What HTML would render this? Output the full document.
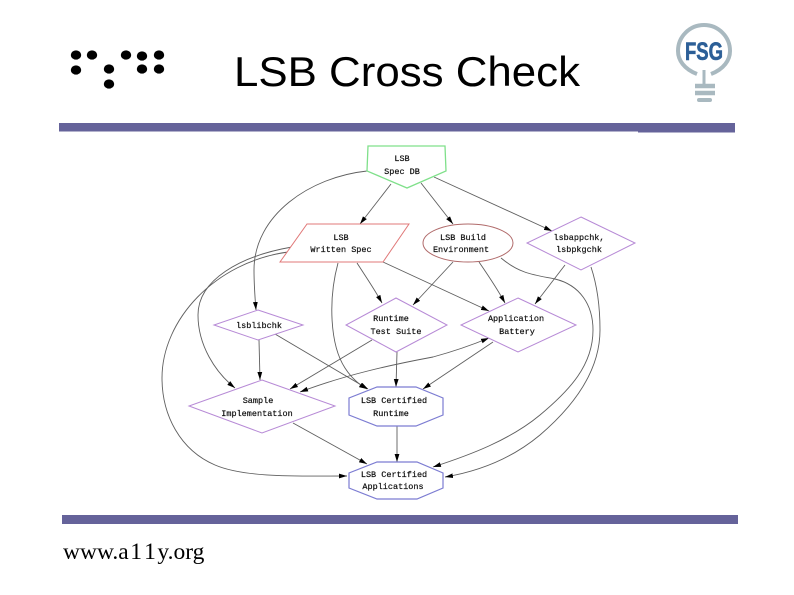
<!DOCTYPE html>
<html><head><meta charset="utf-8"><style>
html,body{margin:0;padding:0;background:#fff}
svg{display:block}
.e{fill:none;stroke:#5e5e5e;stroke-width:.9;marker-end:url(#a)}
.n{fill:none;stroke:#5e5e5e;stroke-width:.9}
.g text{font-family:"Liberation Mono",monospace;font-size:8.5px;text-anchor:middle;fill:#111;stroke:#111;stroke-width:.2}
</style></head><body>
<svg width="794" height="595" viewBox="0 0 794 595" xmlns="http://www.w3.org/2000/svg">
<defs>
<marker id="a" markerWidth="9" markerHeight="7" refX="8" refY="3" orient="auto" markerUnits="userSpaceOnUse"><path d="M0 .6L8 3L0 5.4z" fill="#000"/></marker>
<marker id="b" markerWidth="9" markerHeight="7" refX="0" refY="3" orient="auto" markerUnits="userSpaceOnUse"><path d="M8 .6L0 3L8 5.4z" fill="#000"/></marker>
<filter id="s" x="-5%" y="-5%" width="110%" height="110%"><feGaussianBlur stdDeviation=".35"/></filter>
</defs>
<rect width="794" height="595" fill="#fff"/>
<g fill="#000">
<ellipse cx="76" cy="55" rx="5.2" ry="4.6"/><ellipse cx="92" cy="55" rx="5.2" ry="4.6"/><ellipse cx="126" cy="55" rx="5.2" ry="4.6"/><ellipse cx="142" cy="56" rx="5.2" ry="4.6"/><ellipse cx="159" cy="55" rx="5.2" ry="4.6"/>
<ellipse cx="76" cy="70" rx="5.2" ry="4.6"/><ellipse cx="109" cy="69" rx="5.2" ry="4.6"/><ellipse cx="142" cy="69" rx="5.2" ry="4.6"/><ellipse cx="159" cy="69" rx="5.2" ry="4.6"/>
<ellipse cx="109" cy="84" rx="5.2" ry="4.6"/>
</g>
<text x="234" y="86" font-family="'Liberation Sans',sans-serif" font-size="42" textLength="346" lengthAdjust="spacingAndGlyphs" fill="#000">LSB Cross Check</text>
<path d="M697 74C684 69 678 60 678 51A26 26 0 0 1 730 51C730 60 724 69 711 74" fill="none" stroke="#a9b9c0" stroke-width="4"/>
<path d="M704 70V84" stroke="#a9b9c0" stroke-width="3"/>
<path d="M695 86H715M695 93H715" stroke="#a9b9c0" stroke-width="4.5"/>
<path d="M699 100H710" stroke="#a9b9c0" stroke-width="4" stroke-linecap="round"/>
<text x="704" y="60" text-anchor="middle" font-family="'Liberation Sans',sans-serif" font-weight="700" font-size="25" textLength="38" lengthAdjust="spacingAndGlyphs" fill="#2c5f97" stroke="#2c5f97" stroke-width=".6">FSG</text>
<rect x="59" y="123" width="676" height="8.5" fill="#65639a"/>
<rect x="638" y="131" width="97" height="1.5" fill="#65639a"/>
<rect x="62" y="515" width="676" height="9" fill="#65639a"/>
<text x="63" y="559" font-family="'Liberation Serif',serif" font-size="23.5" fill="#000">www.a<tspan dx="1.5">1</tspan><tspan dx="3">1</tspan><tspan dx="1.5">y.org</tspan></text>

<g filter="url(#s)">
<g>
<path class="e" d="M391 184L360 224"/>
<path class="e" d="M421 183L453 224"/>
<path class="e" d="M434 177L552 231"/>
<path class="e" d="M367 171C310 177 254 215 254 270C254 285 255 298 256 310"/>
<path class="e" d="M292 247C240 256 198 280 198 315C198 345 215 372 235 388"/>
<path class="e" d="M288 252C215 262 162 320 162 378C162 415 180 450 215 465C245 478 300 476 347 476"/>
<path class="e" d="M338 263C328 300 330 345 345 368C352 379 360 385 367 389"/>
<path class="e" d="M357 263C368 280 375 290 382 303"/>
<path class="e" d="M383 262L489 311"/>
<path class="e" d="M453 262L413 305"/>
<path class="e" d="M479 262C490 278 498 290 505 303"/>
<path class="e" d="M501 258C520 274 535 275 555 279C580 285 593 305 593 330C593 365 570 390 540 415C510 440 470 455 433 467"/>
<path class="e" d="M565 265L535 304"/>
<path class="e" d="M591 267C597 285 600 305 600 330C600 370 575 405 540 435C510 460 475 472 445 477"/>
<path class="e" d="M259 340L260 380"/>
<path class="e" d="M275 334L368 389"/>
<path class="e" d="M372 340L290 389"/>
<path class="e" d="M397 352L396 387"/>
<path class="n" style="marker-start:url(#b);marker-end:url(#a)" d="M300 392C345 375 390 365 433 357C455 351 472 345 489 338"/>
<path class="e" d="M493 342L423 389"/>
<path class="e" d="M293 423L367 464"/>
<path class="e" d="M397 426L397 462"/>
</g>
<g fill="#fff" stroke-width="1">
<polygon points="368,146 445,146 446,171 407,188 367,171" stroke="#7fe08a" stroke-width="1.3"/>
<polygon points="307,224 409,224 383,262 280,262" stroke="#e07878"/>
<ellipse cx="468" cy="243" rx="45" ry="19" stroke="#b06a6a"/>
<polygon points="581,217 635,243 581,270 527,243" stroke="#b78ad6"/>
<polygon points="258,310 303,325 258,340 214,325" stroke="#b78ad6"/>
<polygon points="396,298 447,325 396,352 346,325" stroke="#b78ad6"/>
<polygon points="518,298 576,325 518,352 461,325" stroke="#b78ad6"/>
<polygon points="262,380 335,406 262,433 189,406" stroke="#b78ad6"/>
<polygon points="377,387 416,387 443,398 443,415 416,426 377,426 349,415 349,398" stroke="#7c7cd2" stroke-width="1.2"/>
<polygon points="377,462 417,462 443,473 443,488 417,499 377,499 349,488 349,473" stroke="#7c7cd2" stroke-width="1.2"/>
</g>
<g class="g">
<text x="402" y="161">LSB</text><text x="402" y="174">Spec DB</text>
<text x="341" y="240">LSB</text><text x="341" y="252">Written Spec</text>
<text x="463" y="240">LSB Build</text><text x="461" y="252">Environment</text>
<text x="579" y="240">lsbappchk,</text><text x="579" y="252">lsbpkgchk</text>
<text x="259" y="328">lsblibchk</text>
<text x="391" y="321">Runtime</text><text x="396" y="334">Test Suite</text>
<text x="516" y="321">Application</text><text x="517" y="334">Battery</text>
<text x="258" y="403">Sample</text><text x="257" y="416">Implementation</text>
<text x="394" y="403">LSB Certified</text><text x="391" y="416">Runtime</text>
<text x="394" y="477">LSB Certified</text><text x="393" y="489">Applications</text>
</g>
</g>
</svg>
</body></html>
